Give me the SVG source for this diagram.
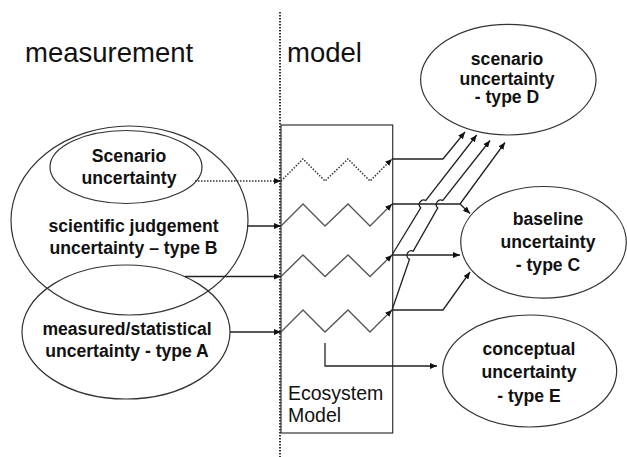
<svg xmlns="http://www.w3.org/2000/svg" width="627" height="457" viewBox="0 0 627 457">
<defs>
<marker id="ah" viewBox="0 0 7 6" refX="7" refY="3" markerWidth="7" markerHeight="6" orient="auto" markerUnits="userSpaceOnUse"><path d="M0,0 L7,3 L0,6 z" fill="#111"/></marker>
<style>
.ell{fill:#fff;stroke:#333;stroke-width:1.2}
.lbl{font-family:"Liberation Sans",Arial,sans-serif;font-weight:bold;font-size:17.6px;fill:#111;text-anchor:middle}
.hd{font-family:"Liberation Sans",Arial,sans-serif;font-size:27.5px;fill:#111}
.eco{font-family:"Liberation Sans",Arial,sans-serif;font-size:19.5px;fill:#111}
.ln{fill:none;stroke:#222;stroke-width:1.3}
.zz{fill:none;stroke:#555;stroke-width:1.3}
.dot{fill:none;stroke:#333;stroke-width:1.5;stroke-dasharray:1.5 1.5}
.div{fill:none;stroke:#222;stroke-width:1.8;stroke-dasharray:1.5 1.5}
</style>
</defs>
<rect width="627" height="457" fill="#fff"/>
<g id="headings">
<text class="hd" x="25" y="62">measurement</text>
<text class="hd" x="287" y="62">model</text>
</g>
<line id="divider" x1="280" y1="12" x2="280" y2="457" class="div"/>
<g id="ecosystem-model">
<rect x="281" y="125" width="111.7" height="308" fill="none" stroke="#333" stroke-width="1.2"/>
<text class="eco" x="288" y="400">Ecosystem</text>
<text class="eco" x="288" y="422">Model</text>
</g>
<g id="type-b">
<ellipse class="ell" cx="129.5" cy="220.5" rx="118.5" ry="94.5"/>
</g>
<g id="type-a">
<ellipse cx="126" cy="332" rx="104" ry="67" fill="none" stroke="#333" stroke-width="1.2"/>
<text class="lbl" x="127" y="335">measured/statistical</text>
<text class="lbl" x="127" y="357">uncertainty - type A</text>
</g>
<g id="type-b-text">
<text class="lbl" x="133.5" y="232">scientific judgement</text>
<text class="lbl" x="133.5" y="254">uncertainty – type B</text>
</g>
<g id="scenario">
<ellipse class="ell" cx="126" cy="167" rx="76" ry="36.5"/>
<text class="lbl" x="129" y="161.5">Scenario</text>
<text class="lbl" x="129" y="183.5">uncertainty</text>
</g>
<g id="type-d">
<ellipse class="ell" cx="508.3" cy="79.7" rx="87.7" ry="55.3"/>
<text class="lbl" x="507" y="65">scenario</text>
<text class="lbl" x="507" y="84.5">uncertainty</text>
<text class="lbl" x="507" y="103">- type D</text>
</g>
<g id="type-c">
<ellipse class="ell" cx="543.5" cy="242.3" rx="82.8" ry="55.8"/>
<text class="lbl" x="548" y="225">baseline</text>
<text class="lbl" x="548" y="248">uncertainty</text>
<text class="lbl" x="548" y="270.5">- type C</text>
</g>
<g id="type-e">
<ellipse class="ell" cx="529.7" cy="371" rx="87" ry="56"/>
<text class="lbl" x="529" y="355">conceptual</text>
<text class="lbl" x="529" y="378">uncertainty</text>
<text class="lbl" x="529" y="401.5">- type E</text>
</g>
<g id="connectors">
<path class="dot" d="M195,181 L281,181" marker-end="url(#ah)"/>
<path class="ln" d="M247,226 L281,226" marker-end="url(#ah)"/>
<path class="ln" d="M185,276.5 L281,276.5" marker-end="url(#ah)"/>
<path class="ln" d="M230,332 L281,332" marker-end="url(#ah)"/>
<path class="dot" d="M281,181 L303,159 L325,181 L348,159 L370,181 L392,159" marker-end="url(#ah)"/>
<path class="zz" d="M281,226 L303,204 L325,226 L348,204 L370,226 L392,204" marker-end="url(#ah)"/>
<path class="zz" d="M281,276.5 L303,255 L325,276.5 L348,255 L370,276.5 L392,255" marker-end="url(#ah)"/>
<path class="zz" d="M281,332 L303,310 L325,332 L348,310 L370,332 L392,310" marker-end="url(#ah)"/>
<path class="ln" d="M392,159 L443,159 L465,132" marker-end="url(#ah)"/>
<path class="ln" d="M392,204 L460,204 L470,213.5" marker-end="url(#ah)"/>
<path class="ln" d="M460,204 L505,142.5" marker-end="url(#ah)"/>
<path class="ln" d="M392,255 L460,255" marker-end="url(#ah)"/>
<path class="ln" d="M392,310 L443,310 L470,272" marker-end="url(#ah)"/>
<path class="ln" d="M392,255 L420.7,207.8 A4.5,4.5 0 0 1 425.8,200.5 L476.7,135" marker-end="url(#ah)"/>
<path class="ln" d="M392,310 L409.5,259.3 A4.5,4.5 0 0 1 413.2,251.1 L437.8,207.9 A4.5,4.5 0 0 1 442.8,200.5 L490,140.5" marker-end="url(#ah)"/>
<path class="ln" d="M325,343 L325,366 L437,366" marker-end="url(#ah)"/>
</g>
</svg>
